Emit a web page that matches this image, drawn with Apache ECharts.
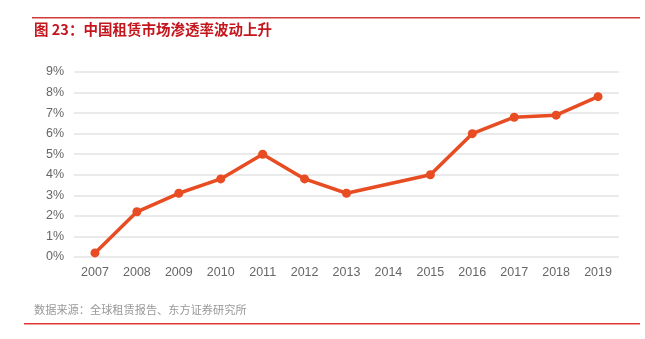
<!DOCTYPE html>
<html><head><meta charset="utf-8">
<script src="https://cdn.jsdelivr.net/npm/echarts@6/dist/echarts.min.js"></script>
<style>html,body{margin:0;padding:0;background:#fff}#c{width:645px;height:339px}</style>
</head><body><div id="c"></div>
<script>
const titleText = '图 23：中国租赁市场渗透率波动上升';
const sourceText = '数据来源：全球租赁报告、东方证券研究所';
const years = ['2007','2008','2009','2010','2011','2012','2013','2014','2015','2016','2017','2018','2019'];
const penetration = [0.2, 2.2, 3.1, 3.8, 5.0, 3.8, 3.1, null, 4.0, 6.0, 6.8, 6.9, 7.8];

const chart = echarts.init(document.getElementById('c'), null, {renderer: 'canvas'});
chart.setOption({
  animation: false,
  graphic: [
    {type: 'rect', shape: {x: 32, y: 17, width: 608, height: 1.5}, style: {fill: '#d33a3a'}},
    {type: 'text', left: 34, top: 22, style: {text: titleText, fill: '#c4161c', font: 'bold 14.5px "Noto Sans CJK SC", sans-serif'}},
    {type: 'text', left: 34, top: 304, style: {text: sourceText, fill: '#999', font: '11.2px "Noto Sans CJK SC", sans-serif'}},
    {type: 'rect', shape: {x: 24, y: 323, width: 616, height: 1.5}, style: {fill: '#e03535'}}
  ],
  grid: {left: 74, right: 26, top: 72, bottom: 82},
  xAxis: {
    type: 'category', data: years, boundaryGap: true,
    axisLine: {show: false}, axisTick: {show: false},
    axisLabel: {color: '#666', fontSize: 12.5, margin: 9, fontFamily: 'Liberation Sans, Arial, sans-serif'}
  },
  yAxis: {
    type: 'value', min: 0, max: 9, interval: 1,
    axisLine: {show: false}, axisTick: {show: false},
    axisLabel: {color: '#666', fontSize: 12.5, margin: 10, formatter: '{value}%', fontFamily: 'Liberation Sans, Arial, sans-serif'},
    splitLine: {lineStyle: {color: '#e3e3e3', width: 1.5}}
  },
  series: [{
    type: 'line', data: penetration, connectNulls: true,
    symbol: 'circle', symbolSize: 9,
    lineStyle: {color: '#e84c22', width: 3.5},
    itemStyle: {color: '#e84c22'}
  }]
});
</script></body></html>
